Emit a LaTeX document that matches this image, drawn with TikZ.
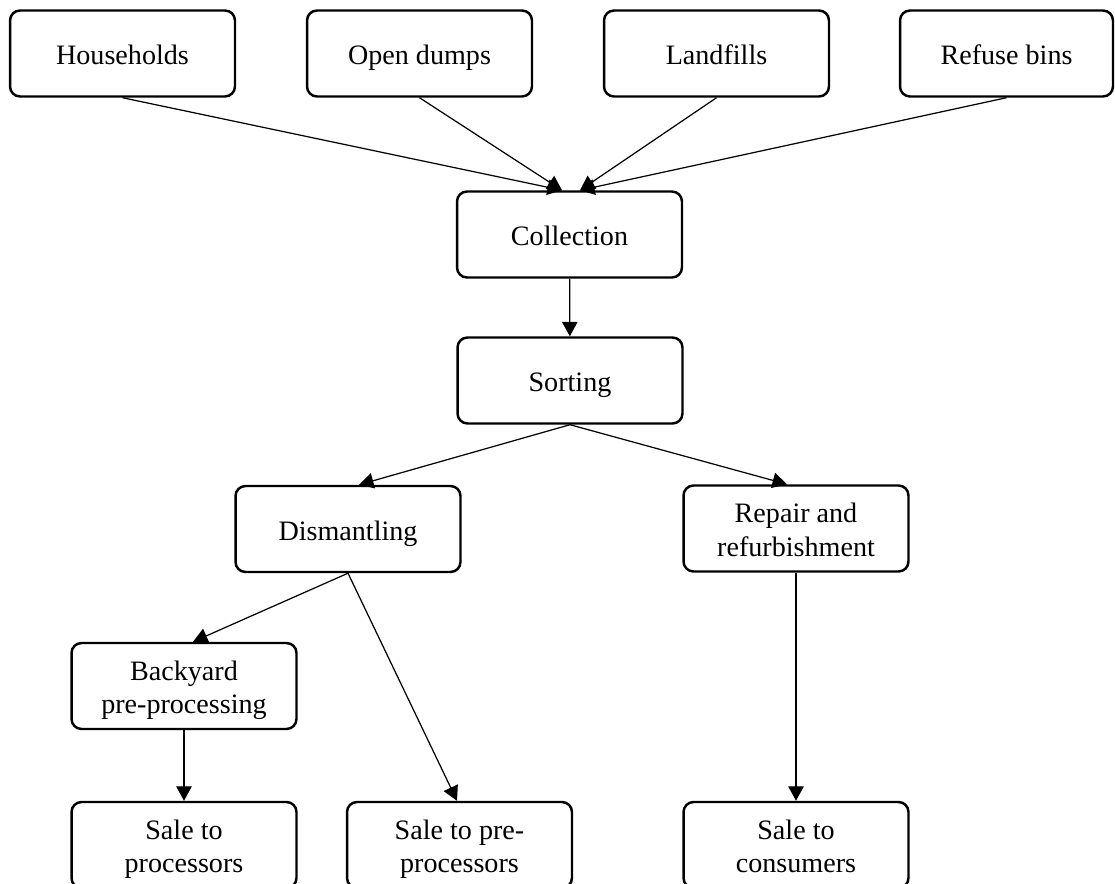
\documentclass[tikz,border=0pt]{standalone}
\usepackage{fontspec}
\setmainfont{Liberation Serif}
\usepackage{tikz}
\tikzstyle{stage}=[draw, rounded corners=0.2cm, line width=1.4pt, inner sep=0pt, minimum width=4.5cm, minimum height=1.72cm, align=center, font=\fontsize{16pt}{19.3pt}\selectfont]
\newcommand{\stage}{\node[stage]}
\usetikzlibrary{arrows.meta}

\begin{document}
\begin{tikzpicture}[x=0.02cm, y=-0.02cm]
	\tikzstyle{flow}=[draw, line width=0.7pt, -{Triangle[length=0.29cm, width=0.31cm]}]
	\tikzstyle{oneline}=[text height=0.46cm, text depth=0pt]
	\tikzstyle{twoline}=[text height=1.2cm, text depth=0.08cm]
	\clip (0,0) rectangle (1115,884);
	% Sources
	\stage[oneline] (hh) at (122.5,53.5) {Households};
	\stage[oneline] (od) at (419.5,53.5) {Open dumps};
	\stage[oneline] (lf) at (716.5,53.5) {Landfills};
	\stage[oneline, minimum width=4.26cm] (rb) at (1006.5,53.5) {Refuse bins};
	% Etapes
	\stage[oneline] (col) at (569.5,234.5) {Collection};
	\stage[oneline] (sor) at (570,380.5) {Sorting};
	\stage[oneline] (dis) at (348,529) {Dismantling};
	\stage[twoline] (rep) at (796,528.5) {Repair and\\refurbishment};
	\stage[twoline] (bak) at (184,686) {Backyard\\pre-processing};
	% Ventes
	\stage[twoline] (sp) at (184,845) {Sale to\\processors};
	\stage[twoline] (spp) at (459.5,845) {Sale to pre-\\processors};
	\stage[twoline] (sc) at (796,845) {Sale to\\consumers};
	
	\path
	% Collecte
	(hh.south) edge[flow] ([xshift=-0.15cm]col.north)
	(od.south) edge[flow] ([xshift=-0.15cm]col.north)
	(lf.south) edge[flow] ([xshift=0.21cm]col.north)
	(rb.south) edge[flow] ([xshift=0.21cm]col.north)
	(col) edge[flow] (sor)
	% Tri
	(sor.south) edge[flow] ([xshift=0.22cm]dis.north)
	(sor.south) edge[flow] ([xshift=-0.18cm]rep.north)
	% Demontage
	(dis.south) edge[flow] ([xshift=0.18cm]bak.north)
	(dis.south) edge[flow] ([xshift=-0.05cm]spp.north)
	(bak) edge[flow] (sp)
	(rep) edge[flow] (sc)
	;
\end{tikzpicture}
\end{document}
